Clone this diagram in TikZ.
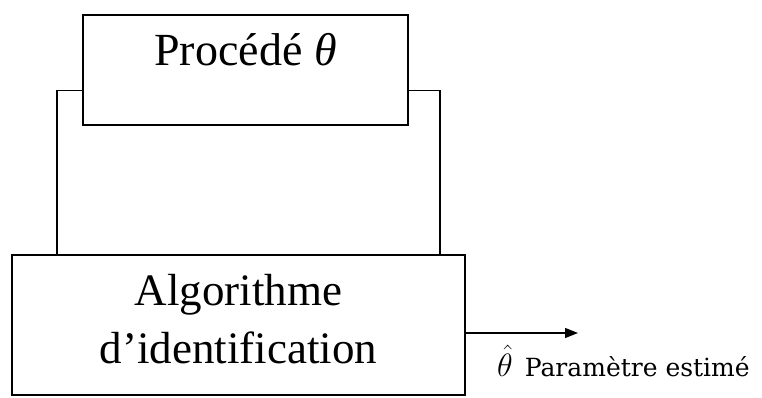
\documentclass[tikz,border=0pt]{standalone}
\usepackage{fontspec}
\setmainfont{Liberation Serif}
\newfontfamily\notefont{DejaVu Serif}
\usetikzlibrary{arrows.meta}

\begin{document}
\begin{tikzpicture}[x=1pt,y=-1pt,
  blockbox/.style={draw, line width=1.3pt, inner sep=0pt},
  wire/.style={line width=1.3pt},
  outarrow/.style={line width=1.3pt, -{Triangle[length=13pt,width=10pt]}}]
  \useasboundingbox (0,0) rectangle (762,397);

  % process block, text set near its top edge
  \node[blockbox, minimum width=325pt, text height=50pt, text depth=60pt,
        font=\fontsize{46pt}{50pt}\selectfont]
    (proc) at (245.5,70) {Procédé {\itshape θ}};

  % identification block
  \node[blockbox, minimum width=453pt, minimum height=140pt] (algo) at (238.5,325) {};
  \node[anchor=base, align=center, inner sep=0pt,
        font=\fontsize{45pt}{58pt}\selectfont]
    (algotext) at (238.5,363) {Algorithme\\d’identification};

  % vertical positions of the two links
  \coordinate (lx) at (57,0);
  \coordinate (rx) at (440,0);
  \draw[wire] ([yshift=35pt]proc.south west) -| (algo.north -| lx);
  \draw[wire] ([yshift=35pt]proc.south east) -| (algo.north -| rx);

  % estimated parameter output
  \coordinate (outp) at (578,333);
  \draw[outarrow] (algo.east |- outp) -- (outp);
  \node[anchor=base west, inner sep=0pt, font=\notefont\fontsize{25pt}{28pt}\selectfont]
    (est) at (497,376) {\scalebox{1.3}{$\hat{\theta}$}\hspace{12pt}Paramètre estimé};
\end{tikzpicture}
\end{document}
